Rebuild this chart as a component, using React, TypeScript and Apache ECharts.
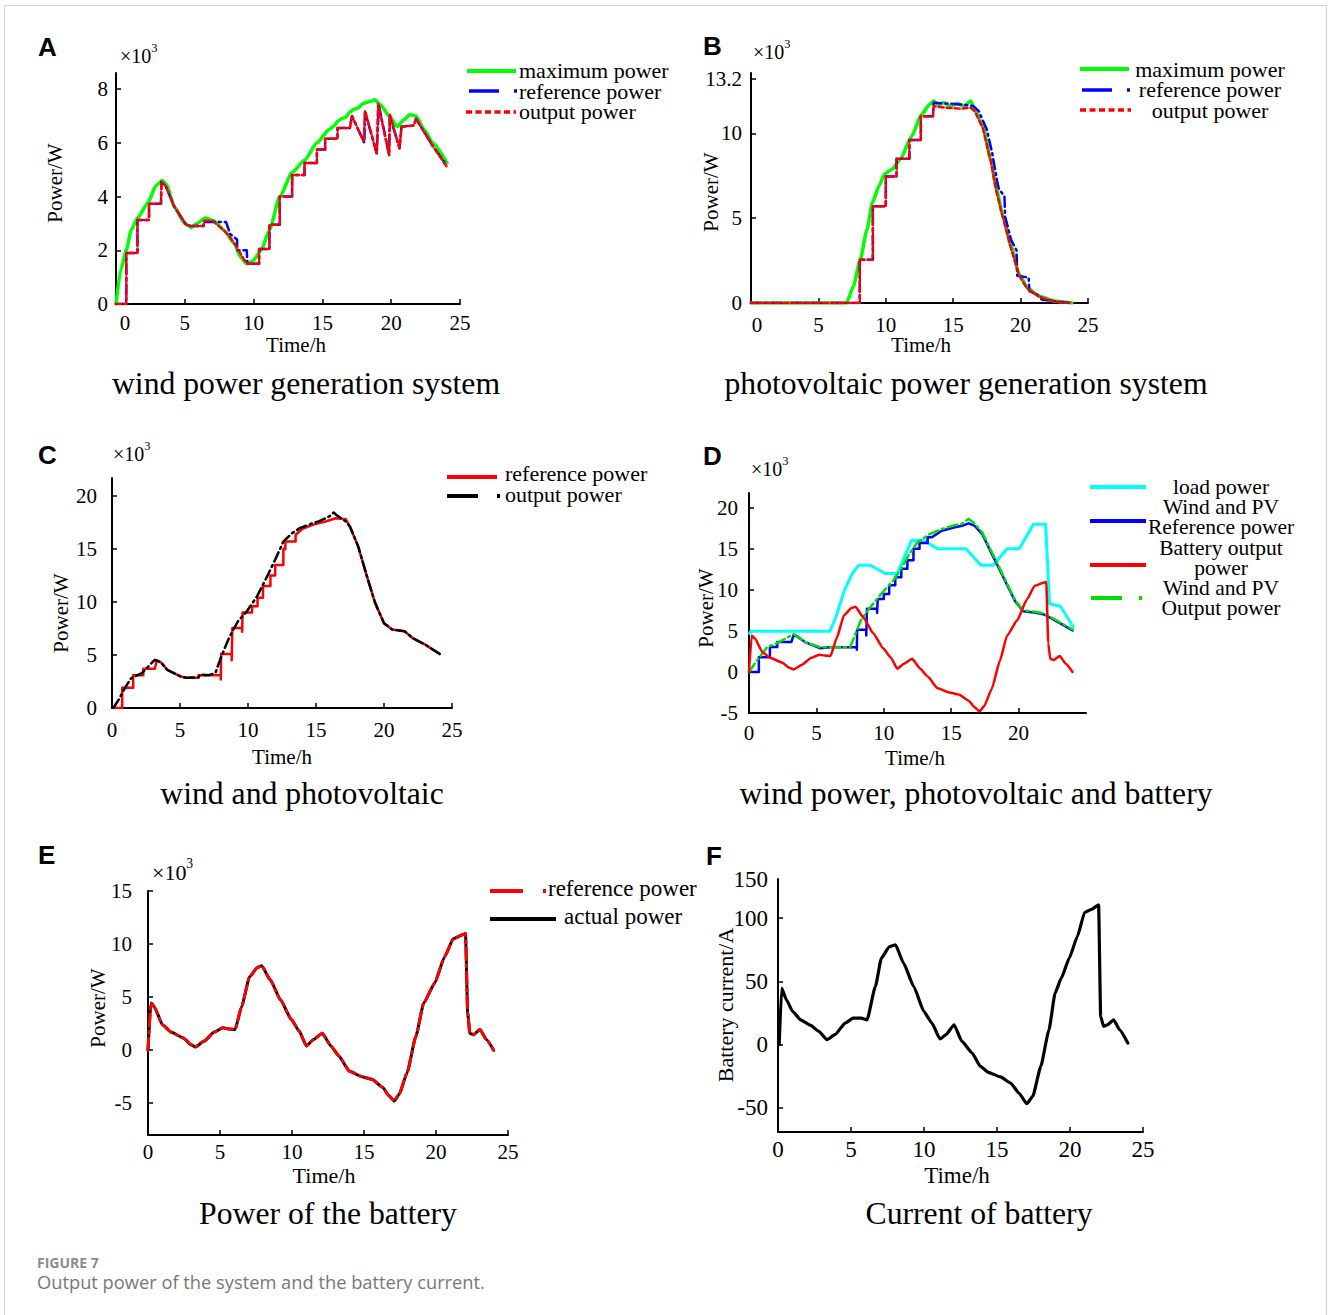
import React, { useEffect, useRef } from 'react';
import * as echarts from 'echarts';

const SERIF = '"Liberation Serif", "Times New Roman", serif';
const SANS = '"Liberation Sans", Arial, sans-serif';

// ---------- tick values ----------
const X_TICKS_25 = [0, 5, 10, 15, 20, 25];
const X_TICKS_20 = [0, 5, 10, 15, 20];
const A_Y_TICKS = [0, 2, 4, 6, 8];
const B_Y_TICKS = [0, 5, 10, 13.2];
const C_Y_TICKS = [0, 5, 10, 15, 20];
const D_Y_TICKS = [-5, 0, 5, 10, 15, 20];
const E_Y_TICKS = [-5, 0, 5, 10, 15];
const F_Y_TICKS = [-50, 0, 50, 100];
const F_TOP_LABEL = '150';

// ---------- legend texts ----------
const A_LEGEND = ['maximum power', 'reference power', 'output power'];
const B_LEGEND = ['maximum power', 'reference power', 'output power'];
const C_LEGEND = ['reference power', 'output power'];
const D_LEGEND = ['load power', 'Wind and PV', 'Reference power', 'Battery output', 'power', 'Wind and PV', 'Output power'];
const E_LEGEND = ['reference power', 'actual power'];

// ---------- A: wind power generation system (x10^3 W) ----------
const A_MAX = [[0, 0], [0.36, 1.3], [0.75, 2.0], [1.1, 2.75], [1.56, 3.2], [2.3, 3.75], [2.9, 4.4], [3.36, 4.6], [3.66, 4.45], [4.26, 3.6], [5.0, 3.0], [5.46, 2.85], [5.9, 3.0], [6.5, 3.2], [7.1, 3.1], [7.85, 2.75], [8.6, 2.25], [9.05, 1.75], [9.5, 1.5], [9.95, 1.6], [10.55, 2.0], [11.15, 2.75], [11.9, 4.0], [12.8, 4.9], [13.7, 5.35], [14.6, 6.0], [15.5, 6.5], [15.9, 6.65], [16.1, 6.8], [16.4, 6.9], [16.7, 6.95], [17.0, 7.15], [17.3, 7.25], [17.6, 7.3], [17.9, 7.45], [18.2, 7.5], [18.5, 7.55], [18.8, 7.6], [19.25, 7.4], [19.85, 7.0], [20.45, 6.6], [20.9, 6.85], [21.35, 7.05], [21.8, 7.0], [22.4, 6.5], [23.0, 6.0], [24.05, 5.25]];
const A_REF = [[0, 0], [0.75, 0], [0.75, 1.9], [1.56, 1.9], [1.56, 3.13], [2.4, 3.13], [2.4, 3.73], [3.27, 3.73], [3.3, 4.55], [3.6, 4.4], [4.26, 3.6], [5.1, 2.95], [5.5, 2.9], [6.36, 2.9], [6.36, 3.05], [8.0, 3.05], [8.3, 2.6], [8.8, 2.4], [8.8, 2.0], [9.5, 2.0], [9.55, 1.5], [10.4, 1.5], [10.4, 2.05], [11.15, 2.05], [11.15, 2.95], [11.9, 2.95], [11.9, 4.0], [12.8, 4.0], [12.8, 4.8], [13.7, 4.8], [13.7, 5.25], [14.6, 5.25], [14.6, 5.75], [15.2, 5.75], [15.2, 6.15], [16.1, 6.15], [16.1, 6.55], [17.0, 6.55], [17.15, 7.0], [18.05, 6.0], [18.1, 7.15], [18.95, 5.6], [19.1, 7.4], [19.85, 5.55], [19.9, 7.0], [20.6, 5.8], [20.75, 6.6], [21.65, 6.65], [21.8, 6.9], [22.4, 6.4], [23.0, 5.9], [24.05, 5.15]];
const A_OUT = [[0, 0], [0.75, 0], [0.75, 1.9], [1.56, 1.9], [1.56, 3.13], [2.4, 3.13], [2.4, 3.73], [3.27, 3.73], [3.3, 4.55], [3.6, 4.4], [4.26, 3.6], [5.1, 2.95], [5.5, 2.9], [6.36, 2.9], [6.4, 3.1], [7.0, 3.1], [7.6, 2.85], [8.2, 2.55], [8.8, 2.1], [9.3, 1.65], [9.55, 1.5], [10.4, 1.5], [10.4, 2.05], [11.15, 2.05], [11.15, 2.95], [11.9, 2.95], [11.9, 4.0], [12.8, 4.0], [12.8, 4.8], [13.7, 4.8], [13.7, 5.25], [14.6, 5.25], [14.6, 5.75], [15.2, 5.75], [15.2, 6.15], [16.1, 6.15], [16.1, 6.55], [17.0, 6.55], [17.15, 7.0], [18.0, 6.05], [18.1, 7.2], [18.95, 5.6], [19.05, 7.45], [19.85, 5.55], [19.9, 7.05], [20.6, 5.8], [20.75, 6.6], [21.65, 6.65], [21.8, 6.9], [22.4, 6.4], [23.0, 5.9], [24.05, 5.1]];

// ---------- B: photovoltaic power generation system ----------
const B_MAX = [[0, 0], [7.1, 0], [7.6, 1.0], [8.1, 2.55], [8.6, 4.3], [9.0, 5.9], [9.5, 6.9], [9.9, 7.6], [10.5, 7.9], [11.1, 8.5], [11.9, 9.8], [12.65, 11.1], [13.25, 11.7], [13.55, 11.9], [13.9, 11.7], [14.3, 11.8], [14.8, 11.6], [15.3, 11.75], [15.8, 11.6], [16.3, 11.9], [16.6, 11.4], [17.2, 10.4], [17.8, 8.4], [18.2, 6.7], [18.7, 5.1], [19.3, 3.3], [19.9, 1.7], [20.5, 0.9], [21.4, 0.4], [22.6, 0.1], [23.8, 0]];
const B_REF = [[0, 0], [8.07, 0], [8.07, 2.55], [9.04, 2.55], [9.04, 5.7], [10.0, 5.7], [10.0, 7.45], [10.8, 7.45], [10.8, 8.5], [11.75, 8.5], [11.75, 9.6], [12.6, 9.6], [12.6, 11.0], [13.5, 11.0], [13.55, 11.8], [14.5, 11.75], [15.5, 11.7], [16.5, 11.6], [16.9, 11.3], [17.5, 10.2], [17.9, 8.8], [18.3, 7.0], [18.4, 6.7], [18.8, 6.3], [18.85, 5.1], [19.3, 3.7], [19.7, 3.1], [19.75, 1.6], [20.6, 1.5], [20.65, 0.7], [21.5, 0.4], [21.55, 0.2], [22.6, 0.1], [23.8, 0]];
const B_OUT = [[0, 0], [8.07, 0], [8.07, 2.55], [9.04, 2.55], [9.04, 5.7], [10.0, 5.7], [10.0, 7.45], [10.8, 7.45], [10.8, 8.5], [11.75, 8.5], [11.75, 9.6], [12.6, 9.6], [12.6, 11.0], [13.5, 11.0], [13.55, 11.6], [14.5, 11.5], [15.5, 11.45], [16.3, 11.5], [16.6, 11.3], [17.2, 10.3], [17.8, 8.3], [18.2, 6.6], [18.7, 5.0], [19.3, 3.2], [19.9, 1.6], [20.5, 0.85], [21.4, 0.35], [22.6, 0.08], [23.8, 0]];

// ---------- C: wind and photovoltaic ----------
const C_REF = [[0.1, 0], [0.75, 0], [0.75, 1.9], [1.56, 1.9], [1.56, 3.1], [2.3, 3.1], [2.3, 3.7], [3.15, 3.7], [3.3, 4.5], [3.6, 4.3], [4.07, 3.6], [5.0, 3.0], [5.45, 2.85], [6.36, 2.85], [6.36, 3.1], [8.0, 3.1], [8.0, 2.7], [8.02, 5.1], [8.8, 5.1], [8.8, 4.5], [8.85, 7.55], [9.57, 7.55], [9.57, 7.2], [9.6, 9.0], [10.3, 9.0], [10.3, 9.6], [10.7, 9.6], [10.7, 10.4], [11.1, 10.4], [11.1, 11.5], [11.65, 11.5], [11.65, 12.5], [12.0, 12.5], [12.0, 13.5], [12.6, 13.5], [12.6, 15.0], [12.75, 15.0], [12.75, 15.7], [13.5, 15.7], [13.5, 16.35], [14.0, 16.9], [14.8, 17.3], [15.7, 17.6], [16.45, 17.9], [17.2, 17.8], [17.5, 17.1], [18.1, 15.25], [18.75, 12.4], [19.35, 9.9], [20.0, 8.0], [20.6, 7.4], [21.5, 7.25], [22.1, 6.6], [23.0, 6.0], [24.1, 5.1]];
const C_OUT = [[0.1, 0], [0.5, 0.8], [1.0, 2.0], [1.4, 2.8], [2.2, 3.3], [3.15, 4.55], [3.6, 4.3], [4.07, 3.6], [5.0, 3.0], [5.45, 2.85], [6.36, 2.9], [6.5, 3.15], [7.1, 3.1], [7.6, 3.3], [8.05, 4.9], [8.65, 6.75], [9.27, 8.2], [9.9, 9.1], [10.65, 10.5], [11.4, 12.4], [12.0, 14.0], [12.6, 15.7], [13.25, 16.5], [13.85, 17.0], [14.3, 17.2], [14.77, 17.45], [15.2, 17.6], [15.7, 17.9], [16.0, 18.1], [16.3, 18.45], [16.5, 18.2], [16.75, 18.0], [17.2, 17.6], [17.5, 17.1], [18.1, 15.25], [18.75, 12.4], [19.35, 9.9], [20.0, 8.0], [20.6, 7.4], [21.5, 7.25], [22.1, 6.6], [23.0, 6.0], [24.1, 5.1]];

// ---------- D: wind power, photovoltaic and battery ----------
const D_LOAD = [[0.05, 4.7], [0.15, 4.95], [6.0, 4.95], [6.45, 6.7], [7.07, 9.9], [7.67, 12.0], [8.13, 13.0], [9.0, 13.0], [10.1, 12.0], [11.0, 12.0], [12.05, 16.0], [12.95, 16.0], [14.0, 15.0], [16.1, 15.0], [17.2, 13.0], [18.1, 13.0], [19.15, 15.0], [20.06, 15.0], [21.1, 18.0], [22.0, 18.0], [22.3, 8.3], [23.1, 8.0], [24.05, 5.5]];
const D_REF = [[0, 0], [0.73, 0], [0.73, 1.8], [1.55, 1.8], [1.55, 3.05], [2.1, 3.05], [2.1, 3.65], [3.15, 3.65], [3.3, 4.45], [3.6, 4.3], [4.2, 3.6], [5.25, 2.9], [6.0, 3.0], [8.0, 3.05], [8.0, 2.7], [8.02, 5.15], [8.7, 5.15], [8.7, 4.45], [8.75, 7.7], [9.5, 7.7], [9.5, 7.2], [9.55, 8.9], [10.0, 8.9], [10.0, 9.5], [10.4, 9.5], [10.4, 10.55], [10.85, 10.55], [10.85, 11.55], [11.3, 11.55], [11.3, 12.57], [11.75, 12.57], [11.75, 13.6], [12.2, 13.6], [12.2, 15.0], [12.65, 15.0], [12.65, 15.7], [13.25, 15.7], [13.25, 16.4], [13.55, 16.4], [14.3, 17.2], [15.2, 17.6], [15.8, 17.8], [16.3, 18.1], [16.75, 17.8], [17.3, 16.8], [17.95, 14.6], [18.55, 12.6], [19.15, 10.6], [19.75, 8.6], [20.35, 7.4], [21.3, 7.2], [21.9, 7.0], [22.8, 6.2], [24.0, 5.05]];
const D_OUT = [[0, 0], [0.5, 1.2], [1.33, 3.0], [2.2, 3.6], [3.3, 4.6], [3.6, 4.35], [4.2, 3.6], [5.3, 3.0], [6.5, 3.05], [7.5, 3.0], [8.3, 6.3], [9.0, 7.9], [9.8, 9.5], [10.7, 11.15], [11.3, 12.6], [11.9, 14.4], [12.5, 15.8], [13.4, 16.8], [14.3, 17.4], [15.2, 17.85], [15.8, 18.05], [16.3, 18.65], [16.75, 18.05], [17.3, 17.0], [17.95, 14.8], [18.55, 12.8], [19.15, 10.75], [19.75, 8.7], [20.35, 7.5], [21.3, 7.3], [21.9, 7.1], [22.8, 6.3], [24.0, 5.15]];

// ---------- battery power (D red, E) ----------
const BATTERY_POWER = [[0, 0], [0.2, 4.45], [0.43, 4.1], [1.0, 2.4], [1.6, 1.7], [2.45, 1.15], [3.0, 0.5], [3.3, 0.3], [3.9, 0.85], [4.6, 1.7], [5.2, 2.1], [5.6, 2.0], [6.05, 1.95], [6.5, 4.1], [7.05, 6.9], [7.6, 7.8], [7.9, 7.95], [8.5, 6.6], [9.2, 4.75], [9.95, 2.9], [10.5, 1.8], [11.0, 0.4], [11.5, 1.0], [12.1, 1.6], [12.7, 0.4], [13.25, -0.55], [14.0, -2.0], [14.85, -2.5], [15.55, -2.75], [16.3, -3.5], [16.7, -4.25], [17.1, -4.8], [17.45, -4.15], [18.0, -2.1], [18.6, 1.3], [19.15, 4.45], [19.9, 6.3], [20.6, 8.8], [21.2, 10.5], [21.9, 10.9], [22.05, 11.0], [22.2, 3.5], [22.35, 1.6], [22.6, 1.45], [23.05, 1.95], [23.5, 1.0], [24.0, 0]];

// ---------- F: battery current (A) ----------
const F_CURRENT = [[0.08, 0], [0.25, 44.7], [0.58, 35.5], [1.0, 26.3], [1.55, 19.7], [2.24, 15.3], [2.8, 10.5], [3.35, 4.0], [3.9, 7.9], [4.6, 17.1], [5.15, 21.0], [5.7, 21.0], [6.1, 19.7], [6.67, 46], [7.08, 68.4], [7.63, 77.6], [8.05, 79], [8.6, 64.5], [9.3, 46], [9.99, 26.3], [10.54, 17.1], [11.1, 4.5], [11.5, 7.9], [12.06, 15.8], [12.6, 2.6], [13.3, -6.6], [13.86, -17.1], [14.4, -21.8], [15.24, -25.5], [15.93, -30.3], [16.5, -38.2], [17.04, -46.6], [17.45, -40.8], [18.0, -17.1], [18.56, 11.8], [18.98, 40.8], [19.4, 52.6], [19.95, 68.4], [20.5, 85.5], [21.0, 104.5], [21.47, 107], [21.96, 110.5], [22.1, 22.4], [22.3, 14.5], [22.57, 15.8], [22.99, 19.7], [23.4, 11.8], [23.96, 1.3]];

// ---------- panels layout ----------
type Panel = {
  left: number; top: number; width: number; height: number;
  yMin: number; yMax: number; xTicks: number[]; yTicks: number[];
  font: number; xMargin: number; yMargin: number; zeroShift: number; topLabel?: string;
};
const PANELS: Panel[] = [
  { left: 116, top: 73, width: 344, height: 231, yMin: 0, yMax: 8.6, xTicks: X_TICKS_25, yTicks: A_Y_TICKS, font: 21, xMargin: 8, yMargin: 8, zeroShift: 18 },
  { left: 751, top: 73, width: 337, height: 230, yMin: 0, yMax: 13.55, xTicks: X_TICKS_25, yTicks: B_Y_TICKS, font: 21, xMargin: 11, yMargin: 9, zeroShift: 12 },
  { left: 112, top: 478, width: 340, height: 230, yMin: 0, yMax: 21.7, xTicks: X_TICKS_25, yTicks: C_Y_TICKS, font: 21, xMargin: 11, yMargin: 15, zeroShift: 0 },
  { left: 749, top: 493, width: 337, height: 220, yMin: -5, yMax: 21.8, xTicks: X_TICKS_20, yTicks: D_Y_TICKS, font: 21, xMargin: 9, yMargin: 11, zeroShift: 0 },
  { left: 148, top: 891, width: 360, height: 244, yMin: -8, yMax: 15, xTicks: X_TICKS_25, yTicks: E_Y_TICKS, font: 21, xMargin: 6, yMargin: 16, zeroShift: 0 },
  { left: 778, top: 879, width: 365, height: 253, yMin: -69, yMax: 131, xTicks: X_TICKS_25, yTicks: F_Y_TICKS, font: 23, xMargin: 6, yMargin: 10, zeroShift: 0, topLabel: F_TOP_LABEL },
];

function text(t: string, x: number, y: number, size: number, extra: any = {}) {
  return {
    type: 'text', x, y, rotation: extra.rotation || 0, silent: true,
    style: {
      text: t, x: 0, y: 0, fill: extra.color || '#000',
      fontSize: size, fontFamily: extra.family || SERIF, fontWeight: extra.weight || 'normal',
      textAlign: extra.align || 'center', textVerticalAlign: 'middle',
      lineHeight: extra.lineHeight || undefined,
    },
  };
}
function block(lines: string[], x: number, yFirst: number, size: number, lh: number, align = 'left') {
  const yMid = yFirst + (lh * (lines.length - 1)) / 2;
  return text(lines.join('\n'), x, yMid, size, { align, lineHeight: lh });
}
function seg(x1: number, y1: number, x2: number, y2: number, color: string, w: number, dash?: number[]) {
  return { type: 'line', silent: true, shape: { x1, y1, x2, y2 }, style: { stroke: color, lineWidth: w, lineDash: dash || null } };
}
function times10(x: number, y: number, size: number) {
  return [text('×10', x, y, size, { align: 'left' }), text('3', x + size * 1.56, y - size * 0.38, size * 0.62, { align: 'left' })];
}

function buildOption() {
  const grid = PANELS.map(p => ({ left: p.left, top: p.top, width: p.width, height: p.height }));
  const xAxis = PANELS.map((p, i) => ({
    type: 'value', gridIndex: i, min: 0, max: 25,
    axisLine: { onZero: false, lineStyle: { color: '#000', width: 2 } },
    axisTick: { inside: true, length: 5, customValues: p.xTicks, lineStyle: { color: '#000', width: 1.5 } },
    splitLine: { show: false },
    axisLabel: {
      customValues: p.xTicks, margin: p.xMargin, color: '#000', fontSize: p.font, fontFamily: SERIF,
      formatter: (v: number) => (v === 0 && p.zeroShift ? '{o|0}' : String(v)),
      rich: { o: { padding: [0, 0, 0, p.zeroShift], fontSize: p.font, fontFamily: SERIF, color: '#000' } },
    },
  }));
  const yAxis = PANELS.map((p, i) => {
    const labels = p.topLabel ? [...p.yTicks, p.yMax] : p.yTicks;
    return {
      type: 'value', gridIndex: i, min: p.yMin, max: p.yMax,
      axisLine: { onZero: false, lineStyle: { color: '#000', width: 2 } },
      axisTick: { inside: true, length: 5, customValues: p.yTicks, lineStyle: { color: '#000', width: 1.5 } },
      splitLine: { show: false },
      axisLabel: {
        customValues: labels, margin: p.yMargin, color: '#000', fontSize: p.font, fontFamily: SERIF,
        formatter: (v: number) => (p.topLabel && v === p.yMax ? p.topLabel : String(v)),
      },
    };
  });
  const line = (i: number, data: number[][], color: string, width: number, type: any, z: number, smooth = 0) => ({
    type: 'line', xAxisIndex: i, yAxisIndex: i, data, symbol: 'none', showSymbol: false, silent: true, z,
    smooth, smoothMonotone: 'x',
    lineStyle: { color, width, type, join: 'round', cap: 'round' }, emphasis: { disabled: true },
  });
  const DASHDOT = [10, 4, 2, 4];
  const DOT = [5, 3];
  const series = [
    line(0, A_MAX, '#00ff00', 3.5, 'solid', 2, 0.2),
    line(0, A_REF, '#0000ff', 2.5, DASHDOT, 3),
    line(0, A_OUT, '#ff0000', 2.5, DOT, 4),
    line(1, B_MAX, '#00ff00', 3.5, 'solid', 2, 0.2),
    line(1, B_REF, '#0000ff', 2.5, DASHDOT, 3),
    line(1, B_OUT, '#ff0000', 2.5, DOT, 4),
    line(2, C_REF, '#ff0000', 2.5, 'solid', 2),
    line(2, C_OUT, '#000000', 2.5, [10, 4, 2, 4], 3),
    line(3, D_LOAD, '#00ffff', 3, 'solid', 2),
    line(3, D_REF, '#0000ff', 2.5, 'solid', 3),
    line(3, D_OUT, '#00e000', 2.5, [10, 4, 2, 4], 4),
    line(3, BATTERY_POWER, '#ff0000', 2.5, 'solid', 5, 0.15),
    line(4, BATTERY_POWER, '#000000', 3, 'solid', 2, 0.15),
    line(4, BATTERY_POWER, '#ff0000', 3, [12, 5, 2, 5], 3, 0.15),
    line(5, F_CURRENT, '#000000', 3.2, 'solid', 2, 0.15),
  ];

  const g: any[] = [];
  // border
  g.push({ type: 'polyline', silent: true, shape: { points: [[4.5, 1315], [4.5, 5.5], [1326.5, 5.5], [1326.5, 1315]] }, style: { stroke: '#d4d4d4', lineWidth: 1.2, fill: null } });
  // panel letters
  const L = (t: string, x: number, y: number) => text(t, x, y, 26, { align: 'left', family: SANS, weight: 'bold' });
  g.push(L('A', 38, 47), L('B', 703, 46), L('C', 38, 455), L('D', 703, 456), L('E', 38, 855), L('F', 706, 856));
  // x10^3 labels
  g.push(...times10(120, 56, 20), ...times10(753, 52, 20), ...times10(113, 454, 20), ...times10(751, 469, 20), ...times10(152, 872, 22));
  // axis names
  const R = Math.PI / 2;
  g.push(text('Power/W', 55, 183, 21, { rotation: R }), text('Time/h', 296, 345, 21));
  g.push(text('Power/W', 711, 192, 21, { rotation: R }), text('Time/h', 921, 345, 21));
  g.push(text('Power/W', 61, 613, 21, { rotation: R }), text('Time/h', 282, 757, 21));
  g.push(text('Power/W', 706, 608, 21, { rotation: R }), text('Time/h', 915, 758, 21));
  g.push(text('Power/W', 98, 1008, 21, { rotation: R }), text('Time/h', 324, 1175, 22));
  g.push(text('Battery current/A', 725, 1005, 22, { rotation: R }), text('Time/h', 957, 1175, 23));
  // subtitles
  g.push(text('wind power generation system', 306, 383, 31.7));
  g.push(text('photovoltaic power generation system', 966, 383, 31.7));
  g.push(text('wind and photovoltaic', 302, 793, 31.7));
  g.push(text('wind power, photovoltaic and battery', 976, 793, 31.7));
  g.push(text('Power of the battery', 328, 1213, 31.7));
  g.push(text('Current of battery', 979, 1213, 31.7));
  // legend A
  g.push(seg(467, 71, 516, 71, '#00ff00', 4));
  g.push(seg(469, 91, 499, 91, '#0000ff', 3.5), seg(514, 91, 517, 91, '#0000ff', 3.5));
  g.push(seg(466, 112, 516, 112, '#ff0000', 3.5, [6, 3.5]));
  g.push(block(A_LEGEND, 519, 70.5, 22, 20.5));
  // legend B
  g.push(seg(1080, 69, 1129, 69, '#00ff00', 4));
  g.push(seg(1082, 90, 1112, 90, '#0000ff', 3.5), seg(1127, 90, 1130, 90, '#0000ff', 3.5));
  g.push(seg(1080, 110, 1131, 110, '#ff0000', 3.5, [6, 3.5]));
  g.push(block(B_LEGEND, 1210, 69, 22, 20.5, 'center'));
  // legend C
  g.push(seg(447, 477, 497, 477, '#ff0000', 4));
  g.push(seg(447, 496, 478, 496, '#000', 4), seg(497, 496, 500, 496, '#000', 4));
  g.push(block(C_LEGEND, 505, 473, 22, 21));
  // legend D
  g.push(seg(1090, 487, 1146, 487, '#00ffff', 4));
  g.push(seg(1090, 521, 1146, 521, '#0000ff', 4));
  g.push(seg(1090, 565, 1146, 565, '#ff0000', 4));
  g.push(seg(1091, 598, 1122, 598, '#00e000', 4), seg(1139, 598, 1142, 598, '#00e000', 4));
  g.push(block(D_LEGEND, 1221, 487, 21.5, 20.2, 'center'));
  // legend E
  g.push(seg(490, 891, 523, 891, '#ff0000', 4), seg(543, 891, 546, 891, '#ff0000', 4), text(E_LEGEND[0], 548, 888, 23, { align: 'left' }));
  g.push(seg(490, 919, 556, 919, '#000', 4), text(E_LEGEND[1], 564, 916, 23, { align: 'left' }));
  // caption
  g.push(text('FIGURE 7', 37, 1262, 14, { align: 'left', family: '"Open Sans", sans-serif', weight: 'bold', color: '#8c8c8c' }));
  g.push(text('Output power of the system and the battery current.', 37, 1281, 18.3, { align: 'left', family: '"Open Sans", sans-serif', color: '#777777' }));

  return { animation: false, backgroundColor: '#ffffff', grid, xAxis, yAxis, series, graphic: g };
}

export default function App() {
  const ref = useRef<HTMLDivElement>(null);
  useEffect(() => {
    const chart = echarts.init(ref.current!, null, { renderer: 'svg' });
    chart.setOption(buildOption() as any);
    return () => chart.dispose();
  }, []);
  return <div ref={ref} style={{ position: 'absolute', left: 0, top: 0, width: 1328, height: 1315, background: '#fff' }} />;
}
